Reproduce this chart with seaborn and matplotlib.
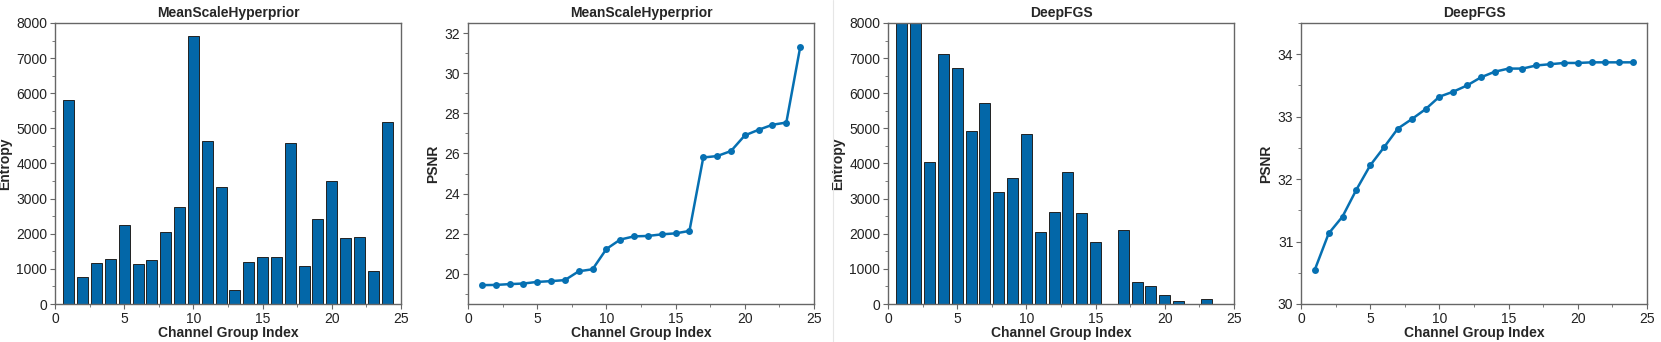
import numpy as np
import seaborn as sns
import matplotlib.pyplot as plt
from matplotlib.ticker import MultipleLocator
from matplotlib.lines import Line2D

sns.set_style('ticks')
plt.rcParams['font.family'] = ['Liberation Sans', 'DejaVu Sans']

# channel group index 1..24
groups = list(range(1, 25))

msh_entropy = [5800, 758, 1165, 1288, 2235, 1136, 1250, 2036, 2765, 7623, 4631, 3333,
               398, 1203, 1345, 1345, 4593, 1089, 2415, 3513, 1884, 1913, 938, 5189]
msh_psnr = [19.44, 19.45, 19.49, 19.52, 19.60, 19.64, 19.69, 20.13, 20.23, 21.24, 21.71, 21.87,
            21.89, 21.97, 22.02, 22.14, 25.80, 25.87, 26.12, 26.90, 27.18, 27.43, 27.54, 31.29]

# first two bars run off the top of the axis
fgs_entropy = [10500, 9800, 4034, 7131, 6733, 4924, 5710, 3191, 3598, 4839, 2045, 2633,
               3750, 2585, 1761, 0, 2112, 616, 521, 265, 95, 0, 152, 10]
fgs_psnr = [30.55, 31.13, 31.40, 31.83, 32.22, 32.51, 32.81, 32.96, 33.12, 33.32, 33.40, 33.50,
            33.63, 33.72, 33.77, 33.77, 33.82, 33.84, 33.86, 33.86, 33.87, 33.87, 33.87, 33.87]

bar_color = '#0367A8'
line_color = '#0670B2'
spine_color = '#666666'

fig = plt.figure(figsize=(16.61, 3.42), dpi=100)
lefts = [55, 468, 888, 1301]
axes = [fig.add_axes([l / 1661, 38 / 342, 346 / 1661, 281 / 342]) for l in lefts]


def style(ax, title, ylabel):
    ax.set_title(title, fontsize=10, fontweight='bold', pad=4)
    ax.set_xlabel('Channel Group Index', fontsize=10, fontweight='bold', labelpad=0)
    ax.set_ylabel(ylabel, fontsize=10, fontweight='bold', labelpad=3)
    ax.set_xlim(0, 25)
    ax.xaxis.set_major_locator(MultipleLocator(5))
    ax.xaxis.set_minor_locator(MultipleLocator(2.5))
    for s in ax.spines.values():
        s.set_visible(True)
        s.set_color(spine_color)
        s.set_linewidth(1.0)
    ax.tick_params(which='major', direction='out', length=3.5, width=0.8, color=spine_color,
                   labelsize=10, labelcolor='#222222', pad=2)
    ax.tick_params(which='minor', direction='out', length=2, width=0.6, color=spine_color)


def bars(ax, vals, title):
    sns.barplot(x=groups, y=vals, ax=ax, native_scale=True, color=bar_color, saturation=1,
                edgecolor='#222222', linewidth=0.7, width=0.8)
    ax.set_ylim(0, 8000)
    ax.yaxis.set_major_locator(MultipleLocator(1000))
    ax.yaxis.set_minor_locator(MultipleLocator(500))
    style(ax, title, 'Entropy')


def lines(ax, vals, title, ylim, major, minor):
    sns.lineplot(x=groups, y=vals, ax=ax, color=line_color, linewidth=1.8, marker='o',
                 markersize=5, markeredgewidth=0)
    ax.set_ylim(*ylim)
    ax.yaxis.set_major_locator(MultipleLocator(major))
    ax.yaxis.set_minor_locator(MultipleLocator(minor))
    style(ax, title, 'PSNR')


bars(axes[0], msh_entropy, 'MeanScaleHyperprior')
lines(axes[1], msh_psnr, 'MeanScaleHyperprior', (18.5, 32.5), 2, 1)
bars(axes[2], fgs_entropy, 'DeepFGS')
lines(axes[3], fgs_psnr, 'DeepFGS', (30, 34.5), 1, 0.5)

# faint seam between the two halves
fig.add_artist(Line2D([833 / 1661, 833 / 1661], [0, 1], color='#e6e6e6', linewidth=0.8))

fig.savefig('out.png', dpi=100)
